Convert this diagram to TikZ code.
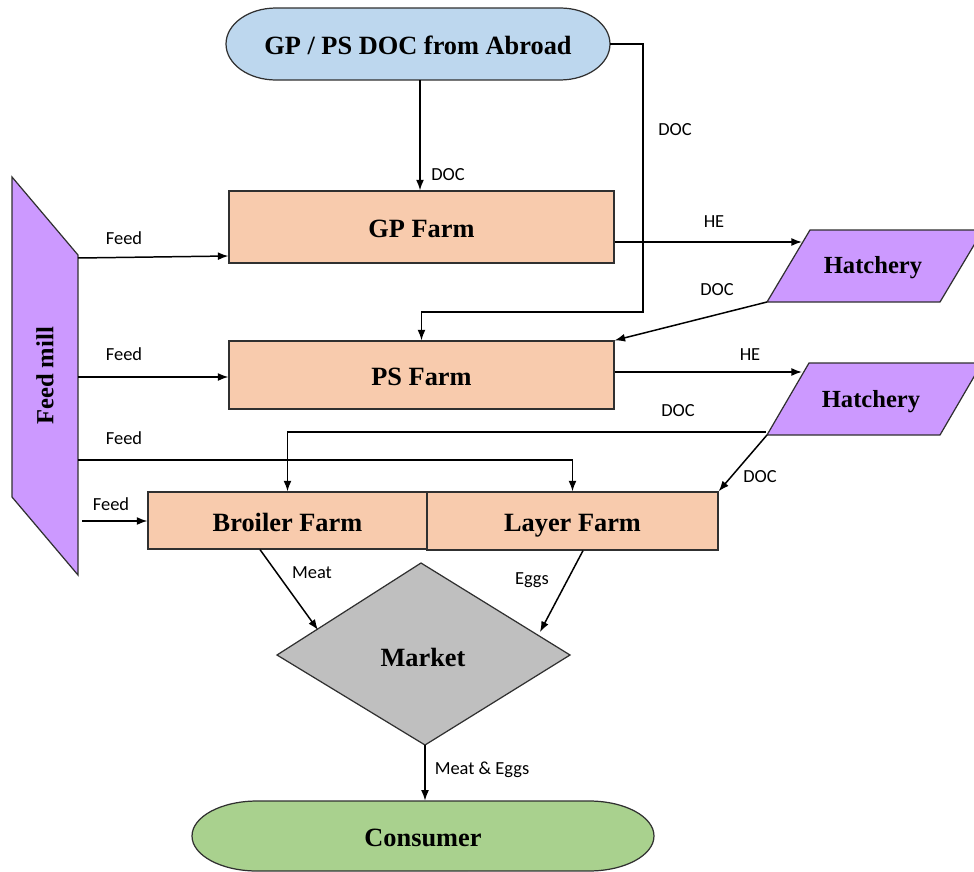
\documentclass[tikz,border=0pt]{standalone}
\usepackage{fontspec}
\setmainfont{Liberation Serif}
\newfontfamily\lblfont{Carlito}
\usetikzlibrary{arrows.meta}
\definecolor{edgegray}{HTML}{303030}
\definecolor{skyblue}{HTML}{BDD7EE}
\definecolor{peach}{HTML}{F8CBAD}
\definecolor{lilac}{HTML}{CC99FF}
\definecolor{stone}{HTML}{BFBFBF}
\definecolor{leaf}{HTML}{A9D18E}
\begin{document}
\begin{tikzpicture}[x=0.02cm,y=-0.02cm,
  box/.style={draw=edgegray, line width=0.7pt, font=\fontsize{15}{18}\selectfont\bfseries,
    inner sep=0pt, text height=12pt, text depth=0pt},
  farm/.style={box, fill=peach, rectangle},
  pilltext/.style={rectangle, inner sep=0pt, font=\fontsize{15}{18}\selectfont\bfseries,
    text height=12pt, text depth=0pt},
  shapeline/.style={draw=edgegray, line width=0.7pt},
  flow/.style={line width=0.85pt, -{Latex[length=6pt,width=4.5pt]}},
  lbl/.style={font=\lblfont\fontsize{10.5}{12}\selectfont, inner sep=0pt}]
\useasboundingbox (0,0) rectangle (974,872);
\clip (0,0) rectangle (974,872);

% terminal ovals with elliptical ends
\draw[shapeline, fill=skyblue] (276,8) -- (560,8)
  arc[start angle=90, end angle=-90, x radius=1cm, y radius=0.72cm] -- (276,80)
  arc[start angle=270, end angle=90, x radius=1cm, y radius=0.72cm] -- cycle;
\node[pilltext, minimum width=7.68cm, minimum height=1.44cm] (src) at (418,44) {GP / PS DOC from Abroad};
\draw[shapeline, fill=leaf] (257,801) -- (589,801)
  arc[start angle=90, end angle=-90, x radius=1.3cm, y radius=0.70cm] -- (257,871)
  arc[start angle=270, end angle=90, x radius=1.3cm, y radius=0.70cm] -- cycle;
\node[pilltext, minimum width=9.24cm, minimum height=1.40cm] (cons) at (423,836) {Consumer};

% farms
\node[farm, minimum width=7.70cm, minimum height=1.44cm] (gp) at (421.5,227) {GP Farm};
\node[farm, minimum width=7.70cm, minimum height=1.36cm] (ps) at (421.5,375) {PS Farm};
\node[farm, minimum width=5.58cm, minimum height=1.14cm] (broiler) at (287.5,520.5) {Broiler Farm};
\node[farm, minimum width=5.82cm, minimum height=1.16cm] (layer) at (572.5,521) {Layer Farm};

% feed mill (vertical parallelogram)
\coordinate (fmA) at (12,177);
\coordinate (fmB) at (78,255);
\coordinate (fmC) at (78,575);
\coordinate (fmD) at (12,497);
\draw[shapeline, fill=lilac] (fmA) -- (fmB) -- (fmC) -- (fmD) -- cycle;
\node[font=\fontsize{14}{16}\selectfont\bfseries, rotate=90] (mill) at (45,376) {Feed mill};

% hatcheries
\coordinate (hA1) at (767,302);
\coordinate (hB1) at (810,230);
\coordinate (hC1) at (983,230);
\coordinate (hD1) at (940,302);
\draw[shapeline, fill=lilac] (hA1) -- (hB1) -- (hC1) -- (hD1) -- cycle;
\node[font=\fontsize{14}{16}\selectfont\bfseries] (hatch1) at (873,268) {Hatchery};

\coordinate (hA2) at (767,435);
\coordinate (hB2) at (809,363);
\coordinate (hC2) at (982,363);
\coordinate (hD2) at (940,435);
\draw[shapeline, fill=lilac] (hA2) -- (hB2) -- (hC2) -- (hD2) -- cycle;
\node[font=\fontsize{14}{16}\selectfont\bfseries] (hatch2) at (871,402) {Hatchery};

% market diamond
\coordinate (mkT) at (421,563);
\coordinate (mkL) at (277,655);
\coordinate (mkR) at (570,655);
\coordinate (mkB) at (425,745);
\draw[shapeline, fill=stone] (mkT) -- (mkR) -- (mkB) -- (mkL) -- cycle;
\node[font=\fontsize{15}{18}\selectfont\bfseries] (market) at (423,657) {Market};

% DOC from abroad
\draw[flow] (src.south -| 420,0) -- (gp.north -| 420,0);
\node[lbl] at (448,175) {DOC};
\coordinate (abroadTurn) at (643,312);
\draw[flow] (src.east) -| (abroadTurn) -| (ps.north);
\node[lbl] at (675,130) {DOC};

% feed supply
\coordinate (feedGP) at (78,258);
\coordinate (feedPS) at (78,377);
\coordinate (feedLY) at (78,460);
\coordinate (feedBR) at (82,521);
\draw[flow] (feedGP) -- (gp.west |- 0,256);
\node[lbl] at (124,238) {Feed};
\draw[flow] (feedPS) -- (feedPS -| ps.west);
\node[lbl] at (124,354) {Feed};
\draw[flow] (feedLY) -| (layer.north);
\node[lbl] at (124,438) {Feed};
\draw[flow] (feedBR) -- (feedBR -| broiler.west);
\node[lbl] at (111,504) {Feed};

% hatching eggs and day-old chicks
\coordinate (heIn1) at (802,242);
\coordinate (heIn2) at (802,372);
\draw[flow] (gp.east |- heIn1) -- (heIn1);
\node[lbl] at (714,222) {HE};
\draw[flow] (hA1) -- (ps.north east);
\node[lbl] at (717,290) {DOC};
\draw[flow] (ps.east |- heIn2) -- (heIn2);
\node[lbl] at (750,355) {HE};
\coordinate (docLine) at (766,432);
\draw[flow] (docLine) -| (broiler.north);
\node[lbl] at (678,411) {DOC};
\draw[flow] (hA2) -- (layer.north east);
\node[lbl] at (760,477) {DOC};

% products to market and consumer
\coordinate (mtIn) at (318,630);
\coordinate (egIn) at (540,632);
\draw[flow] (broiler.south -| 260,0) -- (mtIn);
\node[lbl] at (312,573) {Meat};
\draw[flow] (layer.south -| 583,0) -- (egIn);
\node[lbl] at (532,580) {Eggs};
\draw[flow] (mkB) -- (cons.north -| mkB);
\node[lbl] at (482,770) {Meat \& Eggs};
\end{tikzpicture}
\end{document}
